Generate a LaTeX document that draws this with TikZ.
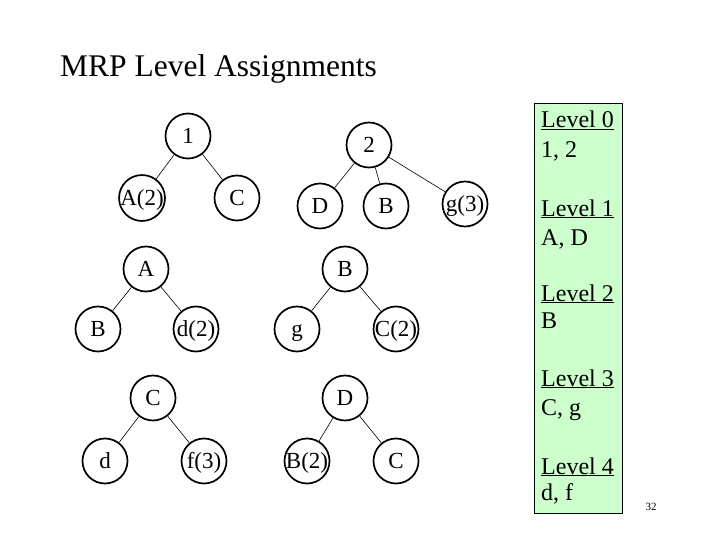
\documentclass[tikz,border=0pt]{standalone}
\usepackage{fontspec}
\setmainfont{Liberation Serif}
\definecolor{lvgreen}{RGB}{204,255,204}
\begin{document}
\begin{tikzpicture}[x=1pt,y=-1pt,
  nd/.style={circle,draw,line width=1.7pt,minimum size=45pt,inner sep=0pt,text height=15.5pt,text depth=0pt,font=\fontsize{23}{26}\selectfont},
  edge/.style={line width=0.6pt},
  lvl/.style={anchor=base west,inner sep=0pt,font=\fontsize{24}{28}\selectfont}]
\useasboundingbox (0,0) rectangle (720,540);
\node[anchor=base west,inner sep=0pt,font=\fontsize{31.5}{36}\selectfont] (title) at (60,77) {MRP Level Assignments};
% tree 1
\node[nd] (n1) at (188,136) {1};
\node[nd] (a2) at (142,198) {A(2)};
\node[nd] (c1) at (237,198) {C};
\draw[edge] (n1) -- (a2);
\draw[edge] (n1) -- (c1);
% tree 2
\node[nd] (n2) at (369,145) {2};
\node[nd] (d1) at (320,206) {D};
\node[nd] (b1) at (386,206) {B};
\node[nd] (g3) at (465,204) {g(3)};
\draw[edge] (n2) -- (d1);
\draw[edge] (n2) -- (b1);
\draw[edge] (n2) -- (g3);
% tree 3
\node[nd] (a1) at (146,269) {A};
\node[nd] (b2) at (98,329) {B};
\node[nd] (d2) at (196,329) {d(2)};
\draw[edge] (a1) -- (b2);
\draw[edge] (a1) -- (d2);
% tree 4
\node[nd] (b3) at (345,269) {B};
\node[nd] (g1) at (297,329) {g};
\node[nd] (c2) at (396,329) {C(2)};
\draw[edge] (b3) -- (g1);
\draw[edge] (b3) -- (c2);
% tree 5
\node[nd] (c3) at (153,398) {C};
\node[nd] (d3) at (105,461) {d};
\node[nd] (f3) at (204,461) {f(3)};
\draw[edge] (c3) -- (d3);
\draw[edge] (c3) -- (f3);
% tree 6
\node[nd] (d4) at (345,398) {D};
\node[nd] (b4) at (307,461) {B(2)};
\node[nd] (c4) at (396,461) {C};
\draw[edge] (d4) -- (b4);
\draw[edge] (d4) -- (c4);
% level box
\node[draw,fill=lvgreen,line width=0.8pt,minimum width=88pt,minimum height=410pt,anchor=north west,inner sep=0pt] (box) at (534,103) {};
\node[lvl] (l0) at (541,128) {\underline{Level 0}};
\node[lvl] (l0b) at (541,158) {1, 2};
\node[lvl] (l1) at (541,216) {\underline{Level 1}};
\node[lvl] (l1b) at (541,245) {A, D};
\node[lvl] (l2) at (541,301) {\underline{Level 2}};
\node[lvl] (l2b) at (541,328) {B};
\node[lvl] (l3) at (541,386) {\underline{Level 3}};
\node[lvl] (l3b) at (541,415) {C, g};
\node[lvl] (l4) at (541,474) {\underline{Level 4}};
\node[lvl] (l4b) at (541,500) {d, f};
\node[font=\fontsize{11}{13}\selectfont] (pg) at (651,507) {32};
\end{tikzpicture}
\end{document}
